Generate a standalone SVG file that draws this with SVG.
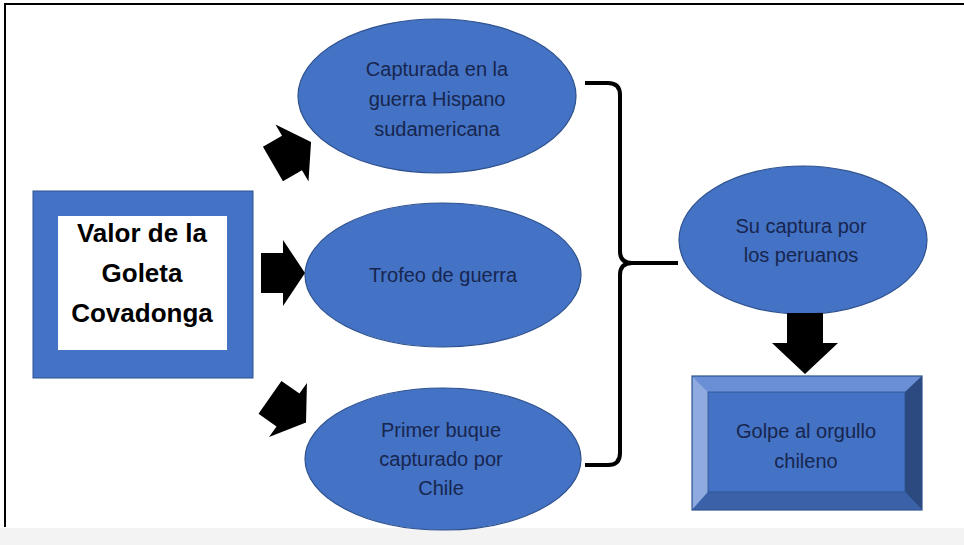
<svg xmlns="http://www.w3.org/2000/svg" width="964" height="545" viewBox="0 0 964 545">
<style>
.ell{fill:#4472c4;stroke:#2f528f;stroke-width:1.2}
.t{font-family:"Liberation Sans",Arial,sans-serif;font-size:20px;fill:#17264f;text-anchor:middle}
.tb{font-family:"Liberation Sans",Arial,sans-serif;font-size:26px;font-weight:bold;fill:#000;text-anchor:middle}
.arr{fill:#000}
</style>
<defs>
<path id="rarrow" d="M-22,-20 H0 V-33 L22,0 L0,33 V20 H-22 Z"/>
</defs>
<rect x="0" y="0" width="964" height="545" fill="#fff"/>
<rect x="0" y="528" width="964" height="17" fill="#f3f3f3"/>
<path d="M5,527 V4 H964" fill="none" stroke="#000" stroke-width="2"/>

<g id="valor">
<rect x="33" y="191" width="220" height="187" fill="#4472c4" stroke="#2f528f" stroke-width="1"/>
<rect x="58" y="216" width="169" height="134" fill="#fff"/>
<text class="tb" x="142" y="242">Valor de la</text>
<text class="tb" x="142" y="282">Goleta</text>
<text class="tb" x="142" y="322">Covadonga</text>
</g>

<g id="capturada">
<ellipse class="ell" cx="437" cy="96" rx="139" ry="77"/>
<text class="t" x="437" y="76">Capturada en la</text>
<text class="t" x="437" y="106">guerra Hispano</text>
<text class="t" x="437" y="136">sudamericana</text>
</g>

<g id="trofeo">
<ellipse class="ell" cx="443" cy="275" rx="138" ry="72"/>
<text class="t" x="443" y="282">Trofeo de guerra</text>
</g>

<g id="primer">
<ellipse class="ell" cx="443" cy="459" rx="138" ry="71"/>
<text class="t" x="441" y="437">Primer buque</text>
<text class="t" x="441" y="466">capturado por</text>
<text class="t" x="441" y="495">Chile</text>
</g>

<g id="su-captura">
<ellipse class="ell" cx="803" cy="240" rx="124" ry="74"/>
<text class="t" x="801" y="233">Su captura por</text>
<text class="t" x="801" y="262">los peruanos</text>
</g>

<g id="golpe">
<rect x="692" y="376" width="230" height="134" fill="#4472c4"/>
<polygon points="692,376 922,376 905,392 708,392" fill="#6a8fd6"/>
<polygon points="692,376 708,392 708,492 692,510" fill="#8eaadf"/>
<polygon points="922,376 922,510 905,492 905,392" fill="#2c4a80"/>
<polygon points="692,510 708,492 905,492 922,510" fill="#3b62a8"/>
<rect x="708" y="392" width="197" height="100" fill="#4472c4" stroke="#2f528f" stroke-width="0.8"/>
<rect x="692" y="376" width="230" height="134" fill="none" stroke="#2f528f" stroke-width="1.2"/>
<text class="t" x="806" y="438">Golpe al orgullo</text>
<text class="t" x="806" y="468">chileno</text>
</g>

<g id="connectors">
<use href="#rarrow" class="arr" transform="translate(292,153) rotate(-30)"/>
<use href="#rarrow" class="arr" transform="translate(283,273)"/>
<use href="#rarrow" class="arr" transform="translate(288,410) rotate(35)"/>
<path class="arr" d="M787,313 H823 V343 H838 L805,374 L772,343 H787 Z"/>
<path d="M585,83 H608 Q620,83 620,95 V251 Q620,263 632,263 Q620,263 620,275 V453 Q620,465 608,465 H585 M632,263 H678" fill="none" stroke="#000" stroke-width="4"/>
</g>
</svg>
